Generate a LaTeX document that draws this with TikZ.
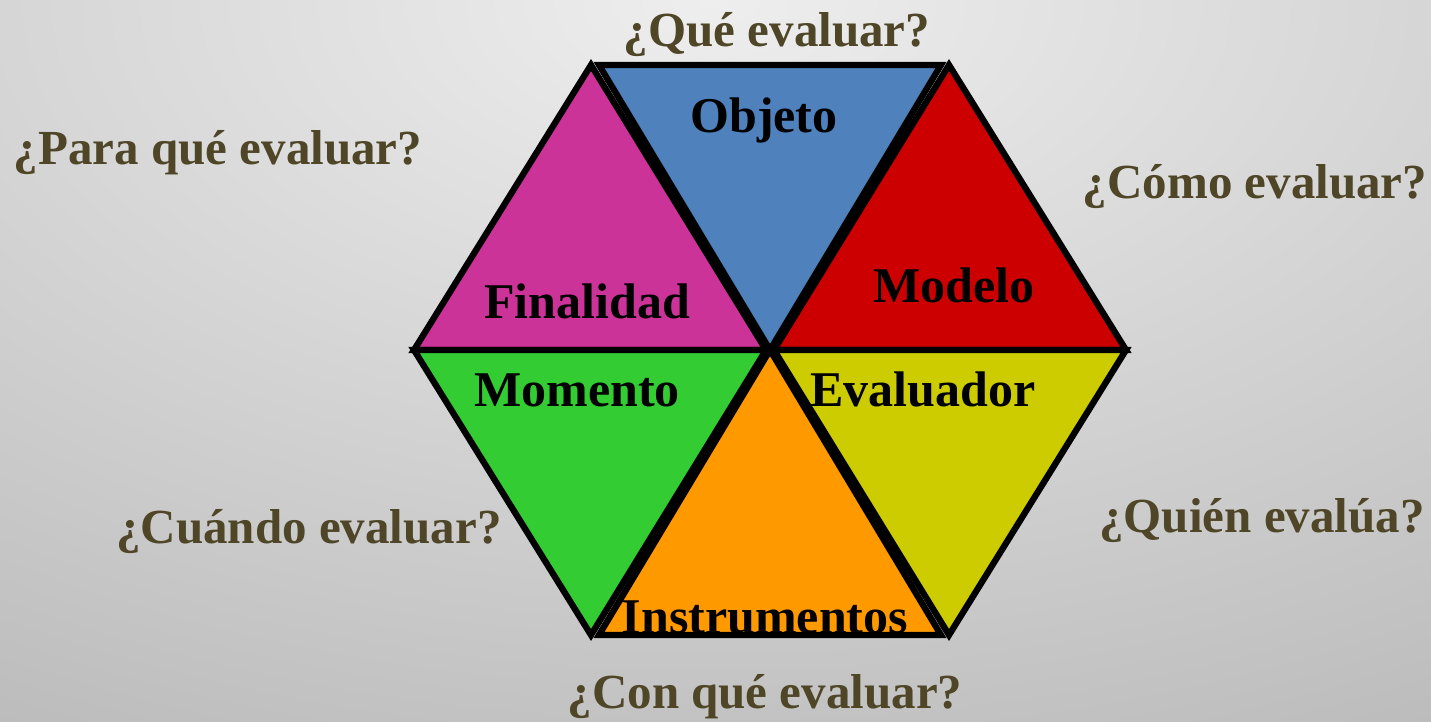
\documentclass[tikz,border=0pt]{standalone}
\usepackage{fontspec}
\setmainfont{Liberation Serif}
\definecolor{bgin}{HTML}{EEEEEE}
\definecolor{bgout}{HTML}{A0A0A0}
\definecolor{qcol}{HTML}{4F4628}
\definecolor{cblue}{HTML}{4F81BD}
\definecolor{cred}{HTML}{CC0000}
\definecolor{cyel}{HTML}{CCCC00}
\definecolor{corange}{HTML}{FF9900}
\definecolor{cgreen}{HTML}{33CC33}
\definecolor{cmag}{HTML}{CC3399}
\begin{document}
\begin{tikzpicture}[x=1pt,y=-1pt,
  tri/.style={draw=black,line width=6.3pt,line join=miter},
  lab/.style={anchor=base,inner sep=0pt,font=\fontsize{50}{55}\selectfont\bfseries,text=black},
  qlab/.style={anchor=base,inner sep=0pt,font=\fontsize{49}{55}\selectfont\bfseries,text=qcol}]
\useasboundingbox (0,0) rectangle (1431,722);
\begin{scope}
\clip (0,0) rectangle (1431,722);
\shade[inner color=bgin,outer color=bgout] (715,0) ellipse [x radius=2300,y radius=1290];
\end{scope}
% hexagon vertices
\coordinate (C) at (770,350);
\coordinate (TL) at (595,65);
\coordinate (TR) at (945,65);
\coordinate (L) at (418,350);
\coordinate (R) at (1122,350);
\coordinate (BL) at (595,635);
\coordinate (BR) at (945,635);
% triangles
\filldraw[tri,fill=cmag] ([xshift=-4pt]TL) -- ([xshift=-4pt]L) -- ([xshift=-4pt]C) -- cycle;
\filldraw[tri,fill=cblue] ([xshift=4pt]TL) -- ([xshift=-4pt]TR) -- (C) -- cycle;
\filldraw[tri,fill=cred] ([xshift=4pt]TR) -- ([xshift=4pt]R) -- ([xshift=4pt]C) -- cycle;
\filldraw[tri,fill=cgreen] ([xshift=-4pt]L) -- ([xshift=-4pt]C) -- ([xshift=-4pt]BL) -- cycle;
\filldraw[tri,fill=corange] (C) -- ([xshift=-4pt]BR) -- ([xshift=4pt]BL) -- cycle;
\filldraw[tri,fill=cyel] ([xshift=4pt]C) -- ([xshift=4pt]R) -- ([xshift=4pt]BR) -- cycle;
% inner labels
\node[lab] (objeto) at (764,133) {Objeto};
\node[lab] (finalidad) at (587,318) {Finalidad};
\node[lab] (modelo) at (954,302) {Modelo};
\node[lab] (momento) at (577,406) {Momento};
\node[lab] (evaluador) at (923,406) {Evaluador};
\node[lab] (instr) at (765,633) {Instrumentos};
% questions
\node[qlab] (q1) at (777,47) {¿Qué evaluar?};
\node[qlab] (q2) at (218,165) {¿Para qué evaluar?};
\node[qlab] (q3) at (1255,199) {¿Cómo evaluar?};
\node[qlab] (q4) at (309,543) {¿Cuándo evaluar?};
\node[qlab] (q5) at (1262,532) {¿Quién evalúa?};
\node[qlab] (q6) at (765,708) {¿Con qué evaluar?};
\end{tikzpicture}
\end{document}
